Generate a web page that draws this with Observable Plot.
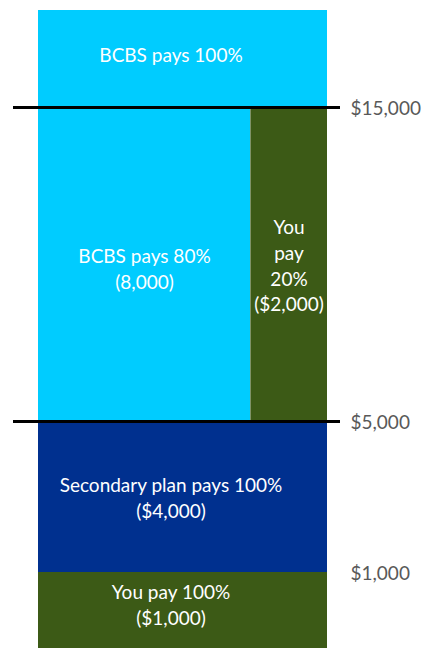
<!DOCTYPE html>
<html>
<head>
<meta charset="utf-8">
<script src="https://cdn.jsdelivr.net/npm/d3@7"></script>
<script src="https://cdn.jsdelivr.net/npm/@observablehq/plot@0.6"></script>
<style>
  html, body { margin: 0; padding: 0; background: #fff; }
</style>
</head>
<body>
<div id="chart"></div>
<script>
// Cost tiers (dollar amounts) and who pays
const tierLabels = [
  "You pay 100%\n($1,000)",
  "Secondary plan pays 100%\n($4,000)",
  "BCBS pays 80%\n(8,000)",
  "You\npay\n20%\n($2,000)",
  "BCBS pays 100%"
];
const tierLow = [0, 1000, 5000, 5000, 15000];
const tierHigh = [1000, 5000, 15000, 15000, 18000];
const shareStart = [0, 0, 0, 80, 0];
const shareEnd = [100, 100, 80, 100, 100];
const payer = ["You", "Secondary", "BCBS", "You", "BCBS"];
const thresholds = [5000, 15000];
const tickValues = [1000, 5000, 15000];

const tiers = tierLabels.map((label, i) => ({
  label, low: tierLow[i], high: tierHigh[i],
  x1: shareStart[i], x2: shareEnd[i], payer: payer[i]
}));

const colorScale = {
  domain: ["You", "Secondary", "BCBS"],
  range: ["#3c5a16", "#00308f", "#00ccff"]
};
const fill = d => colorScale.range[colorScale.domain.indexOf(d.payer)];

// Non-uniform (piecewise) dollar scale, as in the reference
const yPiece = d3.scaleLinear().domain([0, 1000, 5000, 15000, 18000]).range([0, 76, 227, 541, 638]);
const xPiece = d3.scaleLinear().domain([0, 80, 100]).range([0, 212, 289]);

const labelOpts = {
  x: d => (d.x1 + d.x2) / 2,
  y: d => (d.low + d.high) / 2,
  text: "label",
  fill: "#ffffff",
  fontSize: 19,
  lineHeight: 1.35,
  fontFamily: "Lato, sans-serif"
};

const plot = Plot.plot({
  width: 424,
  height: 648,
  marginTop: 0,
  marginBottom: 0,
  marginLeft: 13,
  marginRight: 84,
  style: { fontFamily: "Lato, sans-serif", fontSize: "19px", color: "#595959", background: "#fff", overflow: "visible" },
  x: { transform: xPiece, domain: [0, 289], range: [38, 327], axis: null },
  y: { transform: yPiece, domain: [0, 638], range: [648, 10], axis: null },
  marks: [
    Plot.rect(tiers, { x1: "x1", x2: "x2", y1: "low", y2: "high", fill }),
    Plot.ruleX(tiers.filter(d => d.x1 > 0), { x: "x1", y1: "low", y2: "high", stroke: "#ffffff", strokeOpacity: 0.35, strokeWidth: 1 }),
    Plot.ruleY(thresholds, { y: d => d, stroke: "#000", strokeWidth: 3 }),
    Plot.text(tiers.filter(d => d.low === 0), { ...labelOpts, dy: -7 }),
    Plot.text(tiers.filter(d => d.low === 15000), { ...labelOpts, dy: -5 }),
    Plot.text(tiers.filter(d => d.low === 5000 && d.x1 === 0), { ...labelOpts, dy: 3 }),
    Plot.text(tiers.filter(d => (d.low === 1000) || (d.low === 5000 && d.x1 > 0)), labelOpts),
    // y-axis tick labels on the right
    Plot.text(tickValues, {
      y: d => d,
      frameAnchor: "right",
      dx: 10,
      dy: 1,
      textAnchor: "start",
      text: d3.format("$,"),
      fill: "#595959",
      fontSize: 19,
      fontFamily: "Lato, sans-serif"
    })
  ]
});
document.getElementById("chart").appendChild(plot);
</script>
</body>
</html>
